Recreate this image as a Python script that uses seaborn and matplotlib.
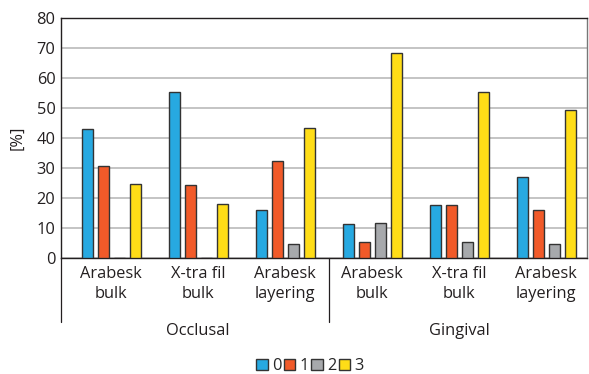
import numpy as np
import pandas as pd
import matplotlib
matplotlib.use("Agg")
import matplotlib.pyplot as plt
import seaborn as sns
from matplotlib.patches import Patch
import matplotlib.transforms as mtransforms

# ---- data ----
groups = ["Occlusal", "Gingival"]
materials = ["Arabesk\nbulk", "X-tra fil\nbulk", "Arabesk\nlayering"]
scores = ["0", "1", "2", "3"]
score0 = [43.0, 55.3, 16.0, 11.3, 17.8, 27.0]
score1 = [30.7, 24.3, 32.3, 5.5, 17.8, 16.0]
score2 = [0.0, 0.0, 4.7, 11.6, 5.5, 4.7]
score3 = [24.7, 18.0, 43.2, 68.3, 55.5, 49.2]
yticks = [0, 10, 20, 30, 40, 50, 60, 70, 80]
colors = ["#27A9E1", "#F15A29", "#A7A9AC", "#FFDD17"]

cats = [f"{g}|{m}" for g in groups for m in materials]
tick_labels = [m for g in groups for m in materials]
rows = []
for s, vals in zip(scores, [score0, score1, score2, score3]):
    for c, v in zip(cats, vals):
        rows.append({"cat": c, "score": s, "value": v})
df = pd.DataFrame(rows)

sns.set_theme(style="white")
plt.rcParams["font.family"] = ["Open Sans", "DejaVu Sans"]

fs = 11.8
fig = plt.figure(figsize=(5.89, 3.74), dpi=100)
ax = fig.add_axes([61/589, 1-258/374, (587-61)/589, (258-18)/374])

sns.barplot(data=df, x="cat", y="value", hue="score", order=cats,
            hue_order=scores, palette=colors, saturation=1, width=0.736, gap=0.31,
            edgecolor="#333333", linewidth=1.0, ax=ax, legend=False,
            errorbar=None, zorder=3)

ax.set_xlim(-0.577, 5.47)
ax.set_ylim(0, 80)
ax.set_yticks(yticks)
ax.set_yticklabels([str(t) for t in yticks], fontsize=fs, color="#231F20")
ax.set_xticks(range(len(cats)))
ax.set_xticklabels(tick_labels, fontsize=fs, color="#231F20", linespacing=1.3)
ax.tick_params(axis="both", length=0, pad=4)
ax.tick_params(axis="x", pad=6)
ax.set_xlabel("")
ax.set_ylabel("[%]", fontsize=fs, color="#231F20", labelpad=8)
ax.yaxis.grid(True, color="#C4C4C4", linewidth=1.4, zorder=0)
ax.set_axisbelow(True)
for side in ["left", "bottom", "top", "right"]:
    ax.spines[side].set_visible(True)
    ax.spines[side].set_color("#231F20")
    ax.spines[side].set_linewidth(1.0)
ax.spines["right"].set_color("#777777")

# group separators and labels
trans = mtransforms.blended_transform_factory(ax.transData, ax.transAxes)
for xpos in [-0.577, 2.5]:
    ax.plot([xpos, xpos], [0, -0.265], transform=trans, color="#231F20",
            linewidth=0.9, clip_on=False)
ax.text(1.0, -0.27, "Occlusal", transform=trans, ha="center", va="top",
        fontsize=fs, color="#231F20")
ax.text(4.0, -0.27, "Gingival", transform=trans, ha="center", va="top",
        fontsize=fs, color="#231F20")

handles = [Patch(facecolor=c, edgecolor="#333333", linewidth=1.0) for c in colors]
fig.legend(handles, scores, loc="center", bbox_to_anchor=(310/589, 1-366/374),
           ncol=4, frameon=False, fontsize=fs, handlelength=0.7,
           handleheight=0.7, handletextpad=0.25, columnspacing=0.15,
           borderpad=0)

fig.savefig("out.png", dpi=100)
